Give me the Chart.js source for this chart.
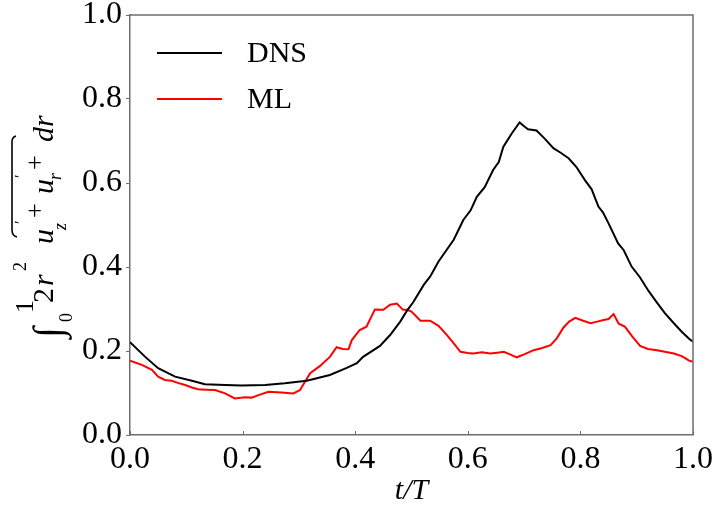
<!DOCTYPE html>
<html>
<head>
<meta charset="utf-8">
<script src="https://cdn.jsdelivr.net/npm/chart.js@4.4.1/dist/chart.umd.min.js"></script>
<style>
    html, body { margin: 0; padding: 0; background: #fff; }
    #wrap { width: 717px; height: 508px; }
</style>
</head>
<body>
<div id="wrap"><canvas id="grafica" width="717" height="508"></canvas></div>
<script>
// Datos
const tiempoDNS = [0, 0.027, 0.05, 0.08, 0.11, 0.133, 0.169, 0.198, 0.24, 0.275, 0.314, 0.355, 0.385,
    0.403, 0.414, 0.444, 0.462, 0.48, 0.492, 0.503, 0.522, 0.533, 0.548, 0.562, 0.575, 0.592, 0.605,
    0.616, 0.63, 0.645, 0.655, 0.663, 0.678, 0.692, 0.70, 0.707, 0.722, 0.737, 0.752, 0.765, 0.779,
    0.793, 0.808, 0.82, 0.832, 0.84, 0.85, 0.867, 0.877, 0.891, 0.906, 0.921, 0.936, 0.95, 0.966,
    0.980, 0.993, 1.0];
const valoresDNS = [0.221, 0.186, 0.159, 0.139, 0.129, 0.121, 0.119, 0.118, 0.119, 0.123, 0.129, 0.143, 0.160,
    0.171, 0.186, 0.212, 0.238, 0.270, 0.296, 0.316, 0.358, 0.377, 0.413, 0.440, 0.465, 0.512, 0.535,
    0.567, 0.590, 0.631, 0.650, 0.686, 0.718, 0.744, 0.735, 0.728, 0.725, 0.705, 0.683, 0.672, 0.659,
    0.638, 0.607, 0.585, 0.544, 0.530, 0.504, 0.456, 0.440, 0.401, 0.375, 0.343, 0.315, 0.290, 0.266,
    0.246, 0.229, 0.222];

const tiempoML = [0, 0.021, 0.039, 0.05, 0.062, 0.074, 0.085, 0.098, 0.11, 0.121, 0.135, 0.151, 0.169,
    0.186, 0.204, 0.216, 0.228, 0.246, 0.269, 0.29, 0.302, 0.31, 0.32, 0.337, 0.355, 0.367, 0.378,
    0.388, 0.394, 0.408, 0.42, 0.435, 0.45, 0.462, 0.474, 0.485, 0.492, 0.50, 0.516, 0.533, 0.548,
    0.563, 0.575, 0.587, 0.60, 0.61, 0.625, 0.64, 0.652, 0.664, 0.675, 0.687, 0.70, 0.717, 0.732,
    0.747, 0.758, 0.770, 0.780, 0.791, 0.805, 0.818, 0.83, 0.841, 0.85, 0.859, 0.868, 0.879, 0.892,
    0.906, 0.92, 0.936, 0.95, 0.966, 0.98, 0.993, 1.0];
const valoresML = [0.177, 0.167, 0.155, 0.139, 0.131, 0.129, 0.124, 0.119, 0.113, 0.109, 0.108, 0.107, 0.099,
    0.087, 0.090, 0.089, 0.095, 0.103, 0.101, 0.099, 0.107, 0.125, 0.147, 0.164, 0.186, 0.209, 0.205,
    0.204, 0.226, 0.250, 0.258, 0.299, 0.298, 0.310, 0.313, 0.298, 0.298, 0.294, 0.272, 0.272, 0.260,
    0.238, 0.218, 0.198, 0.195, 0.194, 0.197, 0.194, 0.196, 0.198, 0.192, 0.185, 0.192, 0.202, 0.207,
    0.214, 0.230, 0.256, 0.270, 0.279, 0.272, 0.266, 0.270, 0.274, 0.276, 0.288, 0.265, 0.258, 0.235,
    0.212, 0.205, 0.202, 0.198, 0.194, 0.188, 0.177, 0.174];

const ticksX = [0, 0.2, 0.4, 0.6, 0.8, 1.0];
const ticksY = [0, 0.2, 0.4, 0.6, 0.8, 1.0];
const etiquetas = ['DNS', 'ML'];

const FUENTE = "'Liberation Serif', 'DejaVu Serif', serif";
const COLOR_MARCO = '#6e6e6e';

const puntos = (xs, ys) => xs.map((x, i) => ({ x: x, y: ys[i] }));

// Formula del eje y: pieza, fuente, avance a lo largo de la linea y desplazamiento vertical
const formulaY = [
    { t: '\u222B', f: 'italic 40px ', x: 0, dy: 8 },
    { t: '0', f: '18px ', x: 16, dy: 19 },
    { t: '1', f: '26px ', x: 25, dy: -20 },
    { t: '2', f: '30px ', x: 35, dy: 0 },
    { t: 'r', f: 'italic 30px ', x: 52, dy: 0 },
    { t: '2', f: '18px ', x: 67, dy: -27 },
    { t: 'u', f: 'italic 30px ', x: 94, dy: 0 },
    { t: 'z', f: 'italic 18px ', x: 108, dy: 13 },
    { t: '\u2032', f: '16px ', x: 114, dy: -27 },
    { t: '+', f: '26px ', x: 120, dy: -10 },
    { t: 'u', f: 'italic 30px ', x: 144, dy: 0 },
    { t: 'r', f: 'italic 18px ', x: 158, dy: 8 },
    { t: '\u2032', f: '16px ', x: 160, dy: -27 },
    { t: '+', f: '26px ', x: 168, dy: -10 },
    { t: 'dr', f: 'italic 30px ', x: 196, dy: 0 }
];

const pluginDecoracion = {
    id: 'decoracion',
    afterDraw(chart) {
        const ctx = chart.ctx;
        const a = chart.chartArea;
        const sx = chart.scales.x;

        ctx.save();
        // marco superior y derecho
        ctx.strokeStyle = COLOR_MARCO;
        ctx.lineWidth = 1.5;
        ctx.beginPath();
        ctx.moveTo(a.left, a.top);
        ctx.lineTo(a.right, a.top);
        ctx.lineTo(a.right, a.bottom);
        ctx.stroke();

        // marcas del eje x hacia dentro
        ctx.lineWidth = 1;
        ticksX.forEach(t => {
            const px = Math.round(sx.getPixelForValue(t)) + 0.5;
            ctx.beginPath();
            ctx.moveTo(px, a.bottom);
            ctx.lineTo(px, a.bottom - 4);
            ctx.stroke();
        });

        // leyenda
        const colores = ['#000000', '#ff0000'];
        etiquetas.forEach((et, i) => {
            const y = 53 + i * 46;
            ctx.strokeStyle = colores[i];
            ctx.lineWidth = 2;
            ctx.beginPath();
            ctx.moveTo(157, y);
            ctx.lineTo(222, y);
            ctx.stroke();
            ctx.fillStyle = '#000';
            ctx.font = '30px ' + FUENTE;
            ctx.textBaseline = 'middle';
            ctx.textAlign = 'left';
            ctx.fillText(et, 247, y + 1);
        });

        // titulo eje x
        ctx.fillStyle = '#000';
        ctx.font = 'italic 30px ' + FUENTE;
        ctx.textAlign = 'center';
        ctx.textBaseline = 'alphabetic';
        ctx.fillText('t/T', (a.left + a.right) / 2, 499);

        // titulo eje y, girado
        ctx.save();
        ctx.translate(53, 338);
        ctx.rotate(-Math.PI / 2);
        ctx.textAlign = 'left';
        ctx.textBaseline = 'alphabetic';
        formulaY.forEach(p => {
            ctx.font = p.f + FUENTE;
            ctx.fillText(p.t, p.x, p.dy);
        });
        // barra superior con extremos curvos
        ctx.strokeStyle = '#000';
        ctx.lineWidth = 1.6;
        ctx.beginPath();
        ctx.moveTo(101, -36);
        ctx.quadraticCurveTo(102, -41, 108, -41);
        ctx.lineTo(196, -41);
        ctx.quadraticCurveTo(201, -41, 202, -37);
        ctx.stroke();
        ctx.restore();
        ctx.restore();
    }
};

const fijarTamano = (campo, valor) => function (escala) {
    escala[campo] = valor;
    escala.paddingTop = 0;
    escala.paddingBottom = 0;
    escala.paddingLeft = 0;
    escala.paddingRight = 0;
};

new Chart(document.getElementById('grafica'), {
    type: 'line',
    data: {
        datasets: [
            {
                label: etiquetas[0],
                data: puntos(tiempoDNS, valoresDNS),
                borderColor: '#000000',
                borderWidth: 2,
                pointRadius: 0,
                tension: 0,
                fill: false
            },
            {
                label: etiquetas[1],
                data: puntos(tiempoML, valoresML),
                borderColor: '#ff0000',
                borderWidth: 2,
                pointRadius: 0,
                tension: 0,
                fill: false
            }
        ]
    },
    options: {
        responsive: false,
        animation: false,
        layout: { padding: { left: 0, right: 24, top: 15, bottom: 0 } },
        plugins: {
            legend: { display: false },
            tooltip: { enabled: false }
        },
        scales: {
            x: {
                type: 'linear',
                min: 0,
                max: 1,
                afterFit: fijarTamano('height', 73),
                afterBuildTicks: (escala) => { escala.ticks = ticksX.map(v => ({ value: v })); },
                grid: { display: true, drawOnChartArea: false, drawTicks: false },
                border: { color: COLOR_MARCO, width: 1.5 },
                ticks: {
                    color: '#000',
                    font: { family: FUENTE, size: 32 },
                    padding: 5,
                    maxRotation: 0,
                    callback: v => v.toFixed(1)
                }
            },
            y: {
                type: 'linear',
                min: 0,
                max: 1,
                afterFit: fijarTamano('width', 130),
                afterBuildTicks: (escala) => { escala.ticks = ticksY.map(v => ({ value: v })); },
                grid: { display: true, drawOnChartArea: false, tickLength: 4, color: COLOR_MARCO },
                border: { color: COLOR_MARCO, width: 1.5 },
                ticks: {
                    color: '#000',
                    font: { family: FUENTE, size: 32 },
                    padding: 4,
                    callback: v => v.toFixed(1)
                }
            }
        }
    },
    plugins: [pluginDecoracion]
});
</script>
</body>
</html>
